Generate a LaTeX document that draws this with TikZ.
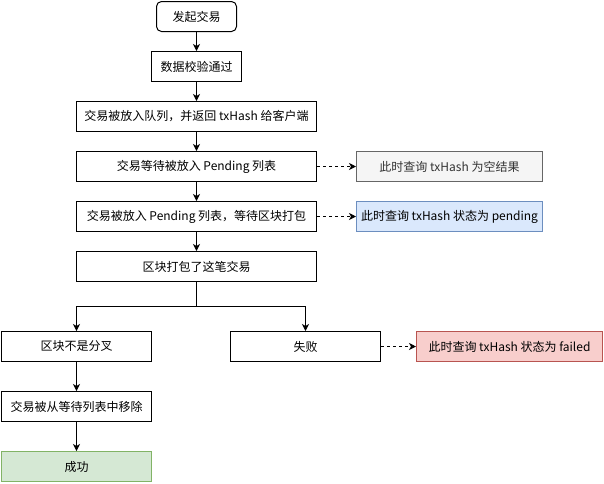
\documentclass[tikz,border=0pt]{standalone}
\usepackage{fontspec}
\setmainfont{Noto Sans CJK SC}
\usetikzlibrary{arrows.meta}
\definecolor{grayfill}{HTML}{F5F5F5}
\definecolor{graystroke}{HTML}{666666}
\definecolor{graytext}{HTML}{333333}
\definecolor{bluefill}{HTML}{DAE8FC}
\definecolor{bluestroke}{HTML}{6C8EBF}
\definecolor{redfill}{HTML}{F8CECC}
\definecolor{redstroke}{HTML}{B85450}
\definecolor{greenfill}{HTML}{D5E8D4}
\definecolor{greenstroke}{HTML}{82B366}
\begin{document}
\begin{tikzpicture}[x=1pt,y=-1pt,
  box/.style={draw=black,line width=1pt,fill=white,minimum height=30pt,inner sep=0pt,font=\fontsize{12}{14}\selectfont},
  flow/.style={line width=1pt,-{Stealth[length=7pt,width=7pt,inset=2pt]}},
  dflow/.style={line width=1pt,dash pattern=on 3pt off 3pt,-{Stealth[length=7pt,width=7pt,inset=2pt]}}]
\useasboundingbox (0,0) rectangle (604,483);
\node[box,rounded corners=5pt,minimum width=80pt] (n1) at (196.5,16.5) {发起交易};
\node[box,minimum width=90pt] (n2) at (196.5,66.5) {数据校验通过};
\node[box,minimum width=240pt] (n3) at (196.5,116.5) {交易被放入队列，并返回 txHash 给客户端};
\node[box,minimum width=240pt] (n4) at (196.5,166.5) {交易等待被放入 Pending 列表};
\node[box,minimum width=240pt] (n5) at (196.5,216.5) {交易被放入 Pending 列表，等待区块打包};
\node[box,minimum width=240pt] (n6) at (196.5,266.5) {区块打包了这笔交易};
\node[box,minimum width=150pt] (n7) at (76.5,346.5) {区块不是分叉};
\node[box,minimum width=150pt] (n8) at (305.5,346.5) {失败};
\node[box,minimum width=150pt] (n9) at (76.5,406.5) {交易被从等待列表中移除};
\node[box,minimum width=150pt,fill=greenfill,draw=greenstroke] (n10) at (76.5,466.5) {成功};
\node[box,minimum width=186pt,fill=grayfill,draw=graystroke,text=graytext] (q1) at (449.5,166.5) {此时查询 txHash 为空结果};
\node[box,minimum width=186pt,fill=bluefill,draw=bluestroke] (q2) at (449.5,216.5) {此时查询 txHash 状态为 pending};
\node[box,minimum width=186pt,fill=redfill,draw=redstroke] (q3) at (509.5,346.5) {此时查询 txHash 状态为 failed};
\coordinate (split) at (196.5,306.5);
\draw[flow] (n1) -- (n2);
\draw[flow] (n2) -- (n3);
\draw[flow] (n3) -- (n4);
\draw[flow] (n4) -- (n5);
\draw[flow] (n5) -- (n6);
\draw[line width=1pt] (n6.south) -- (split);
\draw[flow] (split) -| (n7.north);
\draw[flow] (split) -| (n8.north);
\draw[flow] (n7) -- (n9);
\draw[flow] (n9) -- (n10);
\draw[dflow] (n4) -- (q1);
\draw[dflow] (n5) -- (q2);
\draw[dflow] (n8) -- (q3);
\end{tikzpicture}
\end{document}
